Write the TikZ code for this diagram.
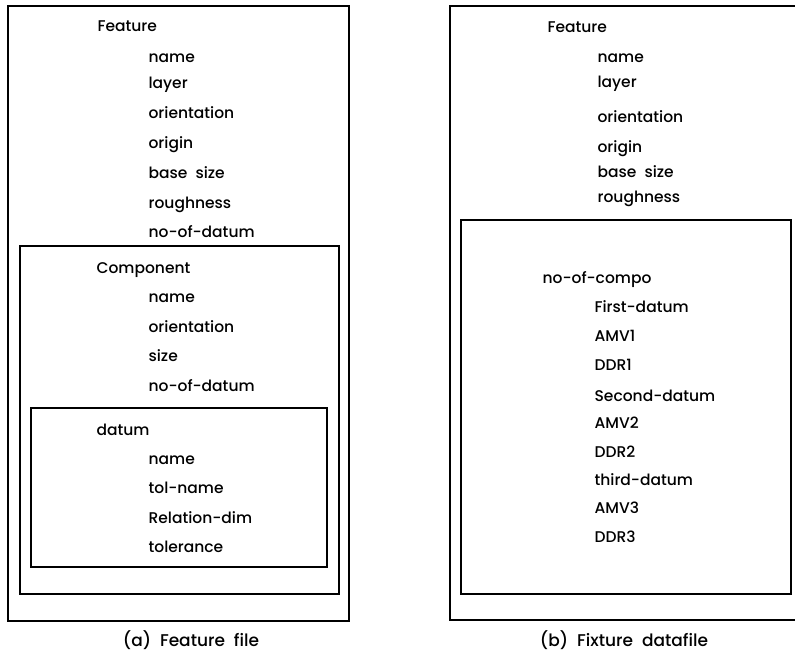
\documentclass[tikz,border=0pt]{standalone}
\usepackage{fontspec}
\setmainfont{Poppins}[UprightFont=* Medium]
\begin{document}
\begin{tikzpicture}[x=1pt,y=-1pt,line width=1.2pt,
    txt/.style={anchor=base west,inner sep=0pt,font=\fontsize{15.5}{18}\selectfont},
    caption/.style={anchor=base,inner sep=0pt,font=\fontsize{17}{20}\selectfont}]
  \useasboundingbox (0,0) rectangle (795,664);
  % (a) feature file: nested records
  \draw (8,6) rectangle (349,621);
  \draw (20,246) rectangle (339,594);
  \draw (31,408) rectangle (327,567);
  \node[txt] (featA) at (97,31) {Feature};
  \foreach[count=\i] \y/\t in {62/name,88/layer,118/orientation,148/origin,
      178/base\ \ size,208/roughness,237/no-of-datum}{
    \node[txt] (featA\i) at (148,\y) {\t};
  }
  \node[txt] (comp) at (96,273) {Component};
  \foreach[count=\i] \y/\t in {302/name,332/orientation,361/size,391/no-of-datum}{
    \node[txt] (comp\i) at (148,\y) {\t};
  }
  \node[txt] (datum) at (96,435) {datum};
  \foreach[count=\i] \y/\t in {464/name,493/tol-name,523/Relation-dim,552/tolerance}{
    \node[txt] (datum\i) at (148,\y) {\t};
  }
  \node[caption] (capA) at (191,646) {(a)\ \ Feature\ \ file};
  % (b) fixture datafile
  \draw (450,6) rectangle (800,620);
  \draw (461,220) rectangle (791,594);
  \node[txt] (featB) at (547,32) {Feature};
  \foreach[count=\i] \y/\t in {62/name,87/layer,122/orientation,152/origin,
      177/base\ \ size,202/roughness}{
    \node[txt] (featB\i) at (597,\y) {\t};
  }
  \node[txt] (compo) at (542,283) {no-of-compo};
  \foreach[count=\i] \y/\t in {312/First-datum,341/AMV1,370/DDR1,401/Second-datum,
      428/AMV2,457/DDR2,485/third-datum,513/AMV3,542/DDR3}{
    \node[txt] (fix\i) at (594,\y) {\t};
  }
  \node[caption] (capB) at (624,646) {(b)\ \ Fixture\ \ datafile};
\end{tikzpicture}
\end{document}
